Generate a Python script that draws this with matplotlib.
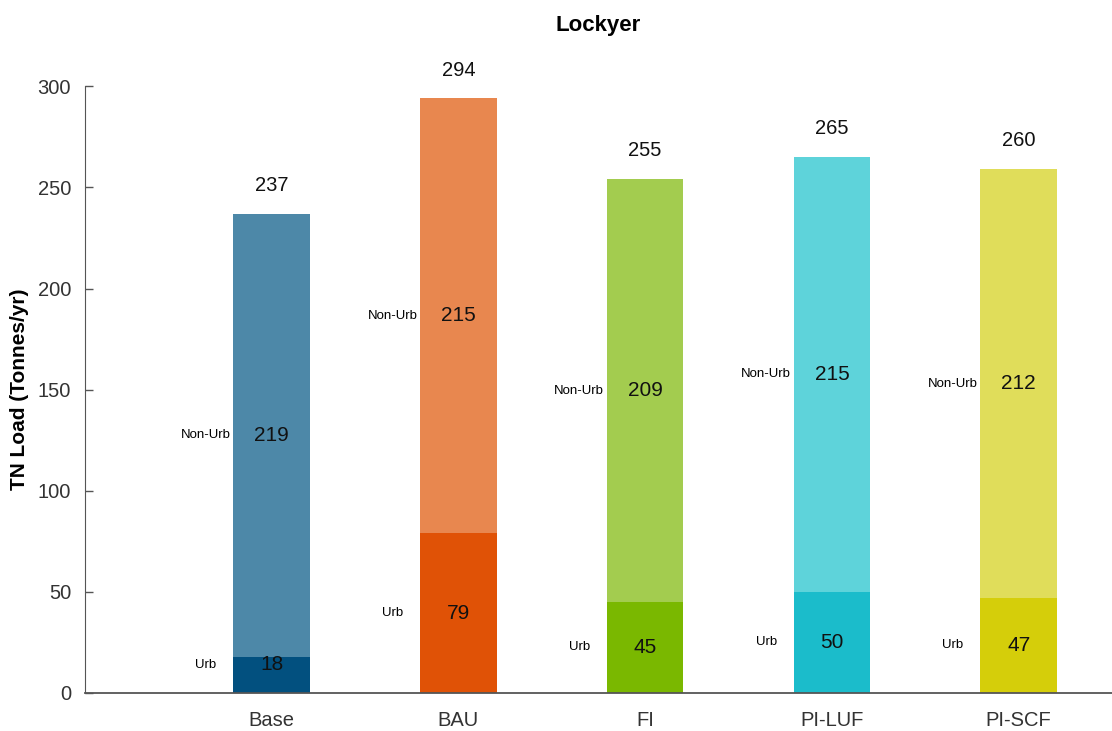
import numpy as np
import matplotlib
matplotlib.use("Agg")
import matplotlib.pyplot as plt

plt.rcParams['font.family'] = ['Liberation Sans', 'DejaVu Sans']

# datos
escenarios = ["Base", "BAU", "FI", "PI-LUF", "PI-SCF"]
urb = [18, 79, 45, 50, 47]
no_urb = [219, 215, 209, 215, 212]
totales = [237, 294, 255, 265, 260]

color_urb = ["#02507F", "#E05206", "#7AB800", "#1BBCCB", "#D5CE0A"]
color_no_urb = ["#4D88A8", "#E8874F", "#A3CC4F", "#5ED3DA", "#E0DD5A"]

fig = plt.figure(figsize=(11.12, 7.31), dpi=100)
ax = fig.add_axes([0.0764, 0.052, 0.9236, 0.830])

x = np.arange(1, len(escenarios) + 1)
ancho = 0.41
ax.bar(x, urb, ancho, color=color_urb)
ax.bar(x, no_urb, ancho, bottom=urb, color=color_no_urb)

for i in range(len(x)):
    y_urb = max(urb[i] / 2, 14)
    y_nurb = urb[i] + no_urb[i] / 2
    ax.text(x[i], y_urb, str(urb[i]), ha='center', va='center', fontsize=15, color='#111111')
    ax.text(x[i], y_nurb, str(no_urb[i]), ha='center', va='center', fontsize=15, color='#111111')
    ax.text(x[i] - ancho / 2 - 0.09, y_urb, "Urb", ha='right', va='center', fontsize=9.5)
    ax.text(x[i] - ancho / 2 - 0.015, y_nurb, "Non-Urb", ha='right', va='center', fontsize=9.5)
    ax.text(x[i], urb[i] + no_urb[i] + 14, str(totales[i]), ha='center', va='center',
            fontsize=14.5, color='#111111', clip_on=False)

ax.set_xlim(0, 5.5)
ax.set_ylim(0, 300)
ax.set_yticks([0, 50, 100, 150, 200, 250, 300])
ax.set_xticks(x)
ax.set_xticklabels(escenarios)
ax.tick_params(axis='y', direction='in', length=6, width=1, color='#555555',
               labelsize=14.5, labelcolor='#333333', pad=10)
ax.tick_params(axis='x', length=0, labelsize=14.5, labelcolor='#333333', pad=13)
ax.spines['top'].set_visible(False)
ax.spines['right'].set_visible(False)
ax.spines['left'].set_color('#555555')
ax.spines['bottom'].set_color('#555555')
ax.spines['bottom'].set_linewidth(1.3)

ax.set_ylabel("TN Load (Tonnes/yr)", fontsize=15, fontweight='bold', labelpad=6)
fig.text(0.538, 0.965, "Lockyer", ha='center', va='center', fontsize=16, fontweight='bold')

plt.savefig("out.png", dpi=100)
